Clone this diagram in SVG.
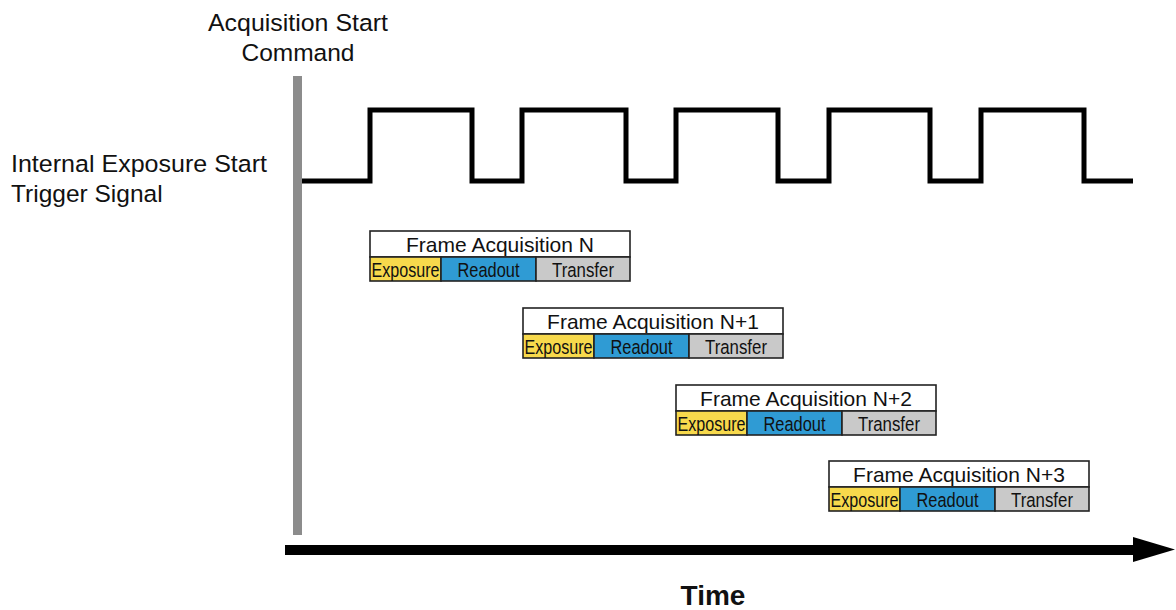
<svg xmlns="http://www.w3.org/2000/svg" width="1176" height="610" viewBox="0 0 1176 610">
<style>
text{font-family:"Liberation Sans",Arial,sans-serif;fill:#111}
.lbl{font-size:24.5px}
.ttl{font-size:21px;text-anchor:middle}
.sub{font-size:20.5px;text-anchor:middle}
.box{stroke:#222;stroke-width:1.6}
.w{fill:#fff}.y{fill:#F7D94C}.b{fill:#2F9BD4}.g{fill:#C9C9C9}
.sig{fill:none;stroke:#000;stroke-width:5;stroke-linejoin:miter}
</style>
<rect width="1176" height="610" fill="#fff"/>
<g id="labels">
<text class="lbl" x="298" y="31" text-anchor="middle" textLength="180" lengthAdjust="spacingAndGlyphs">Acquisition Start</text>
<text class="lbl" x="298" y="61" text-anchor="middle">Command</text>
<text class="lbl" x="11" y="172" textLength="256" lengthAdjust="spacingAndGlyphs">Internal Exposure Start</text>
<text class="lbl" x="11" y="202">Trigger Signal</text>
<text x="713" y="605" text-anchor="middle" style="font-size:28px;font-weight:bold">Time</text>
</g>
<g id="connectors">
<rect id="start-bar" x="293" y="76" width="9" height="459" fill="#8c8c8c"/>
<polyline class="sig" points="302,181 370,181 370,110 472,110 472,181 522,181 522,110 626,110 626,181 676,181 676,110 778,110 778,181 829,181 829,110 930,110 930,181 981,181 981,110 1084,110 1084,181 1133,181"/>
<rect x="285" y="545" width="850" height="10" fill="#000"/>
<polygon points="1133,537 1175,549.5 1133,562" fill="#000"/>
</g>
<g id="frameN" transform="translate(370,231)">
<rect class="box w" x="0" y="0" width="260" height="26"/>
<rect class="box y" x="0" y="26" width="71" height="24"/>
<rect class="box b" x="71" y="26" width="95" height="24"/>
<rect class="box g" x="166" y="26" width="94" height="24"/>
<text class="ttl" x="130" y="21">Frame Acquisition N</text>
<text class="sub" x="35.5" y="46" textLength="68" lengthAdjust="spacingAndGlyphs">Exposure</text>
<text class="sub" x="118.5" y="46" textLength="62" lengthAdjust="spacingAndGlyphs">Readout</text>
<text class="sub" x="213" y="46" textLength="62" lengthAdjust="spacingAndGlyphs">Transfer</text>
</g>
<g id="frameN1" transform="translate(523,308)">
<rect class="box w" x="0" y="0" width="260" height="26"/>
<rect class="box y" x="0" y="26" width="71" height="24"/>
<rect class="box b" x="71" y="26" width="95" height="24"/>
<rect class="box g" x="166" y="26" width="94" height="24"/>
<text class="ttl" x="130" y="21">Frame Acquisition N+1</text>
<text class="sub" x="35.5" y="46" textLength="68" lengthAdjust="spacingAndGlyphs">Exposure</text>
<text class="sub" x="118.5" y="46" textLength="62" lengthAdjust="spacingAndGlyphs">Readout</text>
<text class="sub" x="213" y="46" textLength="62" lengthAdjust="spacingAndGlyphs">Transfer</text>
</g>
<g id="frameN2" transform="translate(676,385)">
<rect class="box w" x="0" y="0" width="260" height="26"/>
<rect class="box y" x="0" y="26" width="71" height="24"/>
<rect class="box b" x="71" y="26" width="95" height="24"/>
<rect class="box g" x="166" y="26" width="94" height="24"/>
<text class="ttl" x="130" y="21">Frame Acquisition N+2</text>
<text class="sub" x="35.5" y="46" textLength="68" lengthAdjust="spacingAndGlyphs">Exposure</text>
<text class="sub" x="118.5" y="46" textLength="62" lengthAdjust="spacingAndGlyphs">Readout</text>
<text class="sub" x="213" y="46" textLength="62" lengthAdjust="spacingAndGlyphs">Transfer</text>
</g>
<g id="frameN3" transform="translate(829,461)">
<rect class="box w" x="0" y="0" width="260" height="26"/>
<rect class="box y" x="0" y="26" width="71" height="24"/>
<rect class="box b" x="71" y="26" width="95" height="24"/>
<rect class="box g" x="166" y="26" width="94" height="24"/>
<text class="ttl" x="130" y="21">Frame Acquisition N+3</text>
<text class="sub" x="35.5" y="46" textLength="68" lengthAdjust="spacingAndGlyphs">Exposure</text>
<text class="sub" x="118.5" y="46" textLength="62" lengthAdjust="spacingAndGlyphs">Readout</text>
<text class="sub" x="213" y="46" textLength="62" lengthAdjust="spacingAndGlyphs">Transfer</text>
</g>
</svg>
